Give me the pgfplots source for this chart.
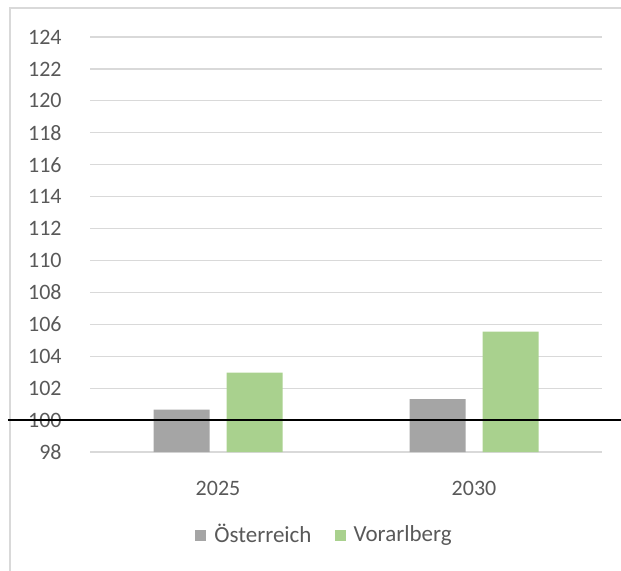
\documentclass[border=0pt]{standalone}
\usepackage{pgfplots}
\pgfplotsset{compat=1.18}
\usepackage{fontspec}
\setmainfont{Carlito}
\definecolor{txt}{HTML}{595959}
\definecolor{gridc}{HTML}{D9D9D9}
\definecolor{oe}{HTML}{A5A5A5}
\definecolor{vbg}{HTML}{A9D18E}
\begin{document}
\begin{tikzpicture}
\useasboundingbox (-45pt,-59pt) rectangle (265.5pt,226pt);
% chart frame, left and top edge
\draw[gridc, line width=0.6pt] (-40pt,-70pt) -- (-40pt,222pt) -- (280pt,222pt);
\begin{axis}[
    at={(0,0)}, anchor=south west,
    scale only axis, width=256pt, height=207.5pt,
    ybar=8.5pt, bar width=28pt,
    xmin=-0.5, xmax=1.5, ymin=98, ymax=124,
    xtick=data, xticklabels={2025,2030},
    ytick={98,100,...,124},
    axis line style={draw=none},
    tick style={draw=none},
    ymajorgrids,
    major grid style={gridc, line width=0.6pt},
    /pgf/number format/assume math mode=true,
    tick label style={font=\fontsize{11}{13}\selectfont, text=txt},
    yticklabel style={anchor=east, inner sep=0pt, xshift=-14pt},
    xticklabel style={anchor=center, inner sep=0pt, yshift=-14pt},
    legend style={at={(0.459,-0.2)}, anchor=center, draw=none, fill=none,
        legend columns=2, font=\fontsize{11.5}{13}\selectfont, text=txt,
        /tikz/every odd column/.append style={column sep=2.5pt},
        /tikz/every even column/.append style={column sep=10pt},
        nodes={inner sep=1.5pt}},
    legend image code/.code={\fill[#1] (0pt,-2.75pt) rectangle (5.5pt,2.75pt);},
]
\addplot[fill=oe, draw=none] coordinates {(0,100.65) (1,101.32)};
\addlegendentry{Österreich}
\addplot[fill=vbg, draw=none] coordinates {(0,102.97) (1,105.55)};
\addlegendentry{Vorarlberg}
\path (axis cs:-0.5,100) coordinate (base);
\end{axis}
% reference line at 100
\draw[black, line width=1.3pt] (base) ++(-41pt,0) -- ++(306.5pt,0);
\end{tikzpicture}
\end{document}
